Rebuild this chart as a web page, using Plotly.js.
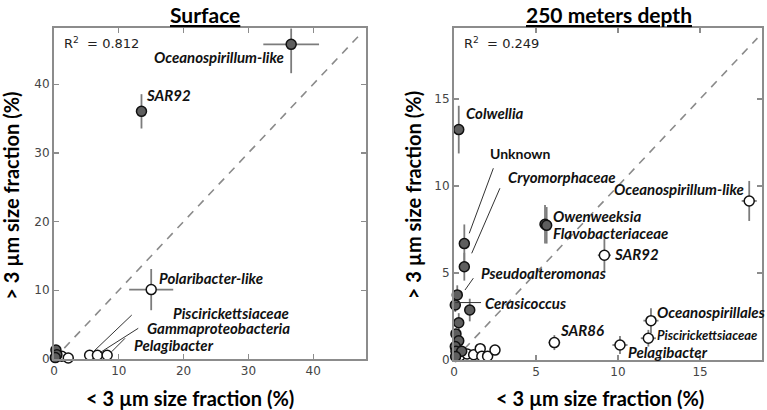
<!DOCTYPE html>
<html>
<head>
<meta charset="utf-8">
<script src="https://cdn.plot.ly/plotly-3.0.1.min.js"></script>
<style>html,body{margin:0;padding:0;background:#fff}#chart{width:767px;height:410px}</style>
</head>
<body>
<div id="chart"></div>
<script>
// ---- Surface: filled (enriched in > 3 µm) ----
var surfFilledX  = [36.6, 13.5, 0.3, 0.45, 0.2];
var surfFilledY  = [45.8, 36.05, 1.3, 0.6, 0.2];
var surfFilledExP = [4.3, 0, 0, 0, 0];
var surfFilledEyP = [2.3, 2.5, 0, 0, 0];
var surfFilledEyM = [4.2, 2.5, 0, 0, 0];
// ---- Surface: open ----
var surfOpenX  = [15.0, 5.5, 6.7, 8.2, 1.2, 2.2];
var surfOpenY  = [10.1, 0.55, 0.55, 0.55, 0.4, 0.15];
var surfOpenEx = [3.4, 0, 0, 0, 0, 0];
var surfOpenEy = [3.0, 0, 0, 0, 0, 0];
// ---- 250 m: filled ----
var deepFilledX  = [0.29, 0.63, 0.63, 5.55, 5.65, 0.2, 0.08, 0.96, 0.29, 0.12, 0.29, 0.08, 0.12, 0.47, 0.1];
var deepFilledY  = [13.24, 6.69, 5.36, 7.8, 7.74, 3.74, 3.16, 2.87, 2.14, 1.5, 1.1, 0.77, 0.5, 0.5, 0.2];
var deepFilledEy = [1.37, 1.1, 0.8, 1.1, 1.05, 0.55, 0.4, 0.65, 0.55, 0.3, 0.35, 0.3, 0.25, 0.3, 0.2];
// ---- 250 m: open ----
var deepOpenX  = [18.0, 9.17, 12.01, 11.85, 10.12, 6.12, 0.37, 0.8, 1.2, 1.6, 1.7, 2.05, 2.5];
var deepOpenY  = [9.14, 6.02, 2.26, 1.25, 0.86, 1.0, 0.25, 0.35, 0.3, 0.65, 0.22, 0.22, 0.57];
var deepOpenEx = [0.46, 0.4, 0.46, 0.46, 0.46, 0.36, 0, 0, 0, 0, 0, 0, 0];
var deepOpenEy = [1.15, 0.97, 0.72, 0.48, 0.52, 0.43, 0, 0, 0, 0, 0, 0, 0];
// ---- 1:1 lines ----
var surfDiag = [0, 47];
var deepDiag = [0, 18.5];
// ---- tick labels ----
var surfTicks = [0, 10, 20, 30, 40];
var deepTicks = [0, 5, 10, 15];
// ---- R² values & titles ----
var r2Values = ['0.812', '0.249'];
var panelTitles = ['Surface', '250 meters depth'];
var xTitle = '< 3 µm size fraction (%)';
var yTitle = '> 3 µm size fraction (%)';

var FILL = '#5e5e5e', ERR = '#7c7c7c', LBL = 'Lato, "Open Sans", sans-serif';

function pts(x, y, fill, ex, ey, eyM, xa, ya) {
  var t = {x: x, y: y, type: 'scatter', mode: 'markers', xaxis: xa, yaxis: ya, cliponaxis: false,
    marker: {size: 10, color: fill, line: {color: '#111', width: 1.5}}, hoverinfo: 'x+y', showlegend: false};
  if (ex) t.error_x = {type: 'data', array: ex, color: ERR, thickness: 1.8, width: 0};
  if (ey) {
    t.error_y = {type: 'data', array: ey, color: ERR, thickness: 1.8, width: 0};
    if (eyM) { t.error_y.symmetric = false; t.error_y.arrayminus = eyM; }
  }
  return t;
}
function diag(d, xa, ya) {
  return {x: d, y: d, type: 'scatter', mode: 'lines', xaxis: xa, yaxis: ya, showlegend: false,
    line: {color: '#8a8a8a', width: 1.6, dash: '8px,7px'}, hoverinfo: 'skip'};
}

var data = [
  diag(surfDiag, 'x', 'y'),
  pts(surfOpenX, surfOpenY, '#ffffff', surfOpenEx, surfOpenEy, null, 'x', 'y'),
  pts(surfFilledX, surfFilledY, FILL, surfFilledExP, surfFilledEyP, surfFilledEyM, 'x', 'y'),
  diag(deepDiag, 'x2', 'y2'),
  pts(deepOpenX, deepOpenY, '#ffffff', deepOpenEx, deepOpenEy, null, 'x2', 'y2'),
  pts(deepFilledX, deepFilledY, FILL, null, deepFilledEy, null, 'x2', 'y2')
];

function ax(domain, range, ticks) {
  return {domain: domain, range: range, tickvals: ticks, showgrid: false, zeroline: false,
    showline: true, linecolor: '#8c8c8c', linewidth: 2, mirror: 'ticks', ticks: 'inside',
    ticklen: 5, tickwidth: 1.2, tickcolor: '#8c8c8c',
    tickfont: {family: '"DejaVu Sans", sans-serif', size: 12, color: '#444'}, fixedrange: true};
}

var ann = [], shapes = [];
function label(xr, yr, x, y, text, size, italic) {
  ann.push({xref: xr, yref: yr, x: x, y: y, xanchor: 'left', yanchor: 'middle', showarrow: false,
    text: italic === false ? '<b>' + text + '</b>' : '<b><i>' + text + '</i></b>',
    font: {family: LBL, size: size || 15, color: '#111'}});
}
function leader(xr, yr, tx, ty, hx, hy) {
  shapes.push({type: 'line', xref: xr, yref: yr, x0: tx, y0: ty, x1: hx, y1: hy,
    line: {color: '#333', width: 1}});
}
// Surface labels
label('x', 'y', 15.1, 43.9, 'Oceanospirillum-like');
label('x', 'y', 13.9, 38.4, 'SAR92');
label('x', 'y', 15.9, 11.8, 'Polaribacter-like');
label('x', 'y', 18.0, 6.65, 'Piscirickettsiaceae');
label('x', 'y', 14.0, 4.47, 'Gammaproteobacteria');
label('x', 'y', 12.1, 2.04, 'Pelagibacter');
leader('x', 'y', 12.0, 6.4, 6.07, 1.06);
leader('x', 'y', 13.0, 4.47, 7.1, 0.92);
leader('x', 'y', 10.96, 3.01, 8.9, 1.06);
// 250 m labels
label('x2', 'y2', 0.63, 14.18, 'Colwellia');
label('x2', 'y2', 2.09, 11.87, 'Unknown', 14, false);
label('x2', 'y2', 3.17, 10.53, 'Cryomorphaceae');
label('x2', 'y2', 9.65, 9.81, 'Oceanospirillum-like');
label('x2', 'y2', 5.9, 8.28, 'Owenweeksia');
label('x2', 'y2', 5.9, 7.28, 'Flavobacteriaceae');
label('x2', 'y2', 9.62, 6.07, 'SAR92');
label('x2', 'y2', 1.52, 5.02, 'Pseudoalteromonas');
label('x2', 'y2', 1.79, 3.29, 'Cerasicoccus');
label('x2', 'y2', 6.36, 1.72, 'SAR86');
label('x2', 'y2', 12.26, 2.78, 'Oceanospirillales');
label('x2', 'y2', 12.26, 1.44, 'Piscirickettsiaceae', 13);
label('x2', 'y2', 10.49, 0.44, 'Pelagibacter');
leader('x2', 'y2', 2.40, 11.02, 0.93, 7.28);
leader('x2', 'y2', 2.80, 9.87, 1.08, 6.13);
leader('x2', 'y2', 1.18, 4.70, 0.67, 4.02);
leader('x2', 'y2', 1.65, 3.30, 0.08, 3.30);
// R²
[['x domain', 'y domain'], ['x2 domain', 'y2 domain']].forEach(function (r, i) {
  ann.push({xref: r[0], yref: r[1], x: 0.025, y: 0.954, xanchor: 'left', yanchor: 'middle', showarrow: false,
    text: 'R<sup>2</sup>  = ' + r2Values[i], font: {family: '"DejaVu Sans", sans-serif', size: 13, color: '#222'}});
});
// panel titles
[0.267, 0.794].forEach(function (px, i) {
  ann.push({xref: 'paper', yref: 'paper', x: px, y: 1 - 14 / 410, xanchor: 'center', yanchor: 'middle', showarrow: false,
    text: '<b><u>' + panelTitles[i] + '</u></b>', font: {family: LBL, size: 21, color: '#000'}});
});
// axis titles
[0.2477, 0.7823].forEach(function (px) {
  ann.push({xref: 'paper', yref: 'paper', x: px, y: 0.0293, xanchor: 'center', yanchor: 'middle', showarrow: false,
    text: '<b>' + xTitle + '</b>', font: {family: LBL, size: 20, color: '#000'}});
});
[[0.014, 0.522], [0.5385, 0.524]].forEach(function (p) {
  ann.push({xref: 'paper', yref: 'paper', x: p[0], y: p[1], xanchor: 'center', yanchor: 'middle', showarrow: false,
    textangle: -90, text: '<b>' + yTitle + '</b>', font: {family: LBL, size: 20, color: '#000'}});
});

var layout = {
  width: 767, height: 410, margin: {l: 0, r: 0, t: 0, b: 0},
  paper_bgcolor: '#fff', plot_bgcolor: '#fff', showlegend: false,
  xaxis: ax([0.0704, 0.4772], [0, 48.15], surfTicks),
  yaxis: ax([0.1244, 0.9317], [0, 48.18], surfTicks),
  xaxis2: ax([0.5919, 0.9935], [0, 18.78], deepTicks),
  yaxis2: ax([0.1220, 0.9317], [0, 19.08], deepTicks),
  annotations: ann,
  shapes: shapes
};
layout.xaxis2.anchor = 'y2';
layout.yaxis2.anchor = 'x2';

Plotly.newPlot('chart', data, layout, {displayModeBar: false, staticPlot: true});
</script>
</body>
</html>
